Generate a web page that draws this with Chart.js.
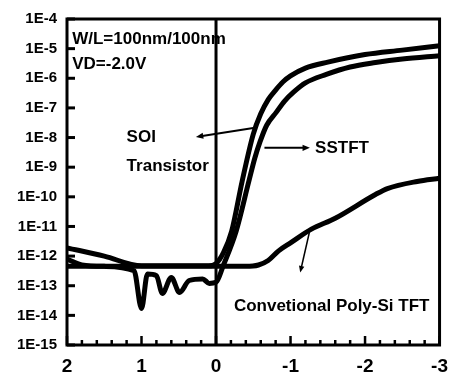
<!DOCTYPE html>
<html>
<head>
<meta charset="utf-8">
<script src="https://cdn.jsdelivr.net/npm/chart.js@4/dist/chart.umd.min.js"></script>
<style>
    body { margin: 0; background: #fff; }
    canvas { display: block; }
</style>
</head>
<body>
<canvas id="idChart"></canvas>
<script>
// gate voltage (V) and drain current (A)
const soiVg = [2, 1.5, 1, 0.5, 0.1, 0, -0.1, -0.21, -0.35, -0.5, -0.6, -0.7, -0.8, -0.9, -1.0, -1.2, -1.5, -2.0, -2.5, -3];
const soiId = [1.9e-12, 1.0e-12, 4.7e-13, 4.7e-13, 4.7e-13, 5.6e-13, 1.3e-12, 6.9e-12, 3.3e-10, 1.3e-8, 6.3e-8, 1.9e-7, 4.0e-7, 7.6e-7, 1.2e-6, 2.2e-6, 3.5e-6, 6.3e-6, 8.9e-6, 1.26e-5];

const sstftVg = [2, 1.8, 1.5, 1.1, 1.0, 0.92, 0.8, 0.72, 0.6, 0.49, 0.36, 0.18, 0.09, 0, -0.1, -0.27, -0.44, -0.52, -0.59, -0.68, -0.81, -0.92, -1.04, -1.2, -1.48, -1.8, -2.14, -2.5, -3];
const sstftId = [7.9e-13, 5.0e-13, 4.5e-13, 3.2e-13, 1.7e-14, 2.5e-13, 2.2e-13, 5.5e-14, 1.9e-13, 5.9e-14, 1.5e-13, 1.7e-13, 1.2e-13, 1.3e-13, 5.0e-13, 6.9e-12, 3.3e-10, 2.0e-9, 7.1e-9, 2.6e-8, 7.2e-8, 1.7e-7, 3.4e-7, 7.0e-7, 1.35e-6, 2.4e-6, 3.4e-6, 4.5e-6, 5.8e-6];

const convVg = [2, 1, 0.5, 0, -0.4, -0.57, -0.7, -0.84, -1.0, -1.28, -1.6, -2.14, -2.3, -2.7, -3];
const convId = [4.5e-13, 4.5e-13, 4.5e-13, 4.5e-13, 4.5e-13, 5.0e-13, 7.1e-13, 1.5e-12, 2.8e-12, 8.1e-12, 1.9e-11, 1.2e-10, 1.9e-10, 3.3e-10, 4.2e-10];

const xTicks = [2, 1, 0, -1, -2, -3];
const yExponents = [-15, -14, -13, -12, -11, -10, -9, -8, -7, -6, -5, -4];

// annotations, placed in data units
const notes = [
    { text: 'W/L=100nm/100nm', x: 1.93, y: 2.1e-5 },
    { text: 'VD=-2.0V', x: 1.93, y: 2.9e-6 },
    { text: 'SOI', x: 1.2, y: 9.8e-9 },
    { text: 'Transistor', x: 1.2, y: 1.05e-9 },
    { text: 'SSTFT', x: -1.33, y: 4.5e-9 },
    { text: 'Convetional Poly-Si TFT', x: -0.24, y: 2.1e-14 }
];
const arrows = [
    { from: [-0.5, 2.1e-8], to: [0.27, 1.05e-8], width: 2, head: 8 },
    { from: [-0.65, 4.5e-9], to: [-1.26, 4.5e-9], width: 2, head: 8 },
    { from: [-1.26, 7.6e-12], to: [-1.13, 2.8e-13], width: 1.5, head: 7 }
];

const FONT = '"Liberation Sans", Arial, sans-serif';

function toPoints(xs, ys) {
    return xs.map((x, i) => ({ x: x, y: ys[i] }));
}

function drawArrow(ctx, x1, y1, x2, y2, width, head) {
    const ang = Math.atan2(y2 - y1, x2 - x1);
    ctx.lineWidth = width;
    ctx.beginPath();
    ctx.moveTo(x1, y1);
    ctx.lineTo(x2 - Math.cos(ang) * head * 0.8, y2 - Math.sin(ang) * head * 0.8);
    ctx.stroke();
    ctx.beginPath();
    ctx.moveTo(x2, y2);
    ctx.lineTo(x2 - head * Math.cos(ang - 0.4), y2 - head * Math.sin(ang - 0.4));
    ctx.lineTo(x2 - head * Math.cos(ang + 0.4), y2 - head * Math.sin(ang + 0.4));
    ctx.closePath();
    ctx.fill();
}

const framePlugin = {
    id: 'frame',
    afterDatasetsDraw(chart) {
        const ctx = chart.ctx;
        const a = chart.chartArea;
        const xs = chart.scales.x;
        const ys = chart.scales.y;
        ctx.save();
        ctx.strokeStyle = '#000';
        ctx.fillStyle = '#000';

        // vertical line at Vg = 0
        ctx.lineWidth = 3;
        const x0 = xs.getPixelForValue(0);
        ctx.beginPath();
        ctx.moveTo(x0, a.top);
        ctx.lineTo(x0, a.bottom);
        ctx.stroke();

        // inward ticks on y axis (decades)
        yExponents.forEach(e => {
            const py = ys.getPixelForValue(Math.pow(10, e));
            ctx.beginPath();
            ctx.moveTo(a.left, py);
            ctx.lineTo(a.left + 8, py);
            ctx.stroke();
        });

        // inward ticks on x axis, minor every 0.2 V
        ctx.lineWidth = 2.5;
        for (let i = -15; i <= 10; i++) {
            const v = i / 5;
            const px = xs.getPixelForValue(v);
            const len = (i % 5 === 0) ? 9 : 5;
            ctx.beginPath();
            ctx.moveTo(px, a.bottom);
            ctx.lineTo(px, a.bottom - len);
            ctx.stroke();
        }

        // box
        ctx.lineWidth = 3;
        ctx.strokeRect(a.left, a.top, a.right - a.left, a.bottom - a.top);

        // arrows
        arrows.forEach(ar => {
            drawArrow(ctx,
                xs.getPixelForValue(ar.from[0]), ys.getPixelForValue(ar.from[1]),
                xs.getPixelForValue(ar.to[0]), ys.getPixelForValue(ar.to[1]),
                ar.width, ar.head);
        });

        // text
        ctx.font = 'bold 17px ' + FONT;
        ctx.textAlign = 'left';
        ctx.textBaseline = 'middle';
        notes.forEach(n => {
            ctx.fillText(n.text, xs.getPixelForValue(n.x), ys.getPixelForValue(n.y));
        });
        ctx.restore();
    }
};

function renderIdVgChart(chartId) {
    const canvas = document.getElementById(chartId);
    canvas.width = 458;
    canvas.height = 380;

    const lineStyle = {
        showLine: true,
        borderColor: '#000',
        borderWidth: 5,
        pointRadius: 0,
        fill: false,
        cubicInterpolationMode: 'monotone',
        borderJoinStyle: 'round',
        borderCapStyle: 'round'
    };

    const ctx = canvas.getContext('2d');
    new Chart(ctx, {
        type: 'scatter',
        data: {
            datasets: [
                Object.assign({ label: 'SOI Transistor', data: toPoints(soiVg, soiId) }, lineStyle),
                Object.assign({ label: 'SSTFT', data: toPoints(sstftVg, sstftId) }, lineStyle),
                Object.assign({ label: 'Convetional Poly-Si TFT', data: toPoints(convVg, convId) }, lineStyle)
            ]
        },
        options: {
            responsive: false,
            animation: false,
            layout: { padding: { left: 0, top: 16, right: 15, bottom: 0 } },
            plugins: {
                legend: { display: false },
                tooltip: { enabled: false }
            },
            scales: {
                x: {
                    type: 'linear',
                    reverse: true,
                    min: -3,
                    max: 2,
                    grid: { display: false, drawTicks: false },
                    border: { display: false },
                    afterBuildTicks: scale => { scale.ticks = xTicks.map(v => ({ value: v })); },
                    afterFit: scale => { scale.height = 35; },
                    ticks: {
                        padding: 10,
                        color: '#000',
                        maxRotation: 0,
                        font: { family: FONT, size: 19, weight: 'bold' },
                        callback: v => (v === 0 ? '0' : String(v))
                    }
                },
                y: {
                    type: 'logarithmic',
                    min: 1e-15,
                    max: 1e-4,
                    grid: { display: false, drawTicks: false },
                    border: { display: false },
                    afterBuildTicks: scale => { scale.ticks = yExponents.map(e => ({ value: Math.pow(10, e) })); },
                    afterFit: scale => { scale.width = 67; },
                    ticks: {
                        padding: 10,
                        color: '#000',
                        autoSkip: false,
                        font: { family: FONT, size: 15, weight: 'bold' },
                        callback: v => '1E' + Math.round(Math.log10(v))
                    }
                }
            }
        },
        plugins: [framePlugin]
    });
}

renderIdVgChart('idChart');
</script>
</body>
</html>
